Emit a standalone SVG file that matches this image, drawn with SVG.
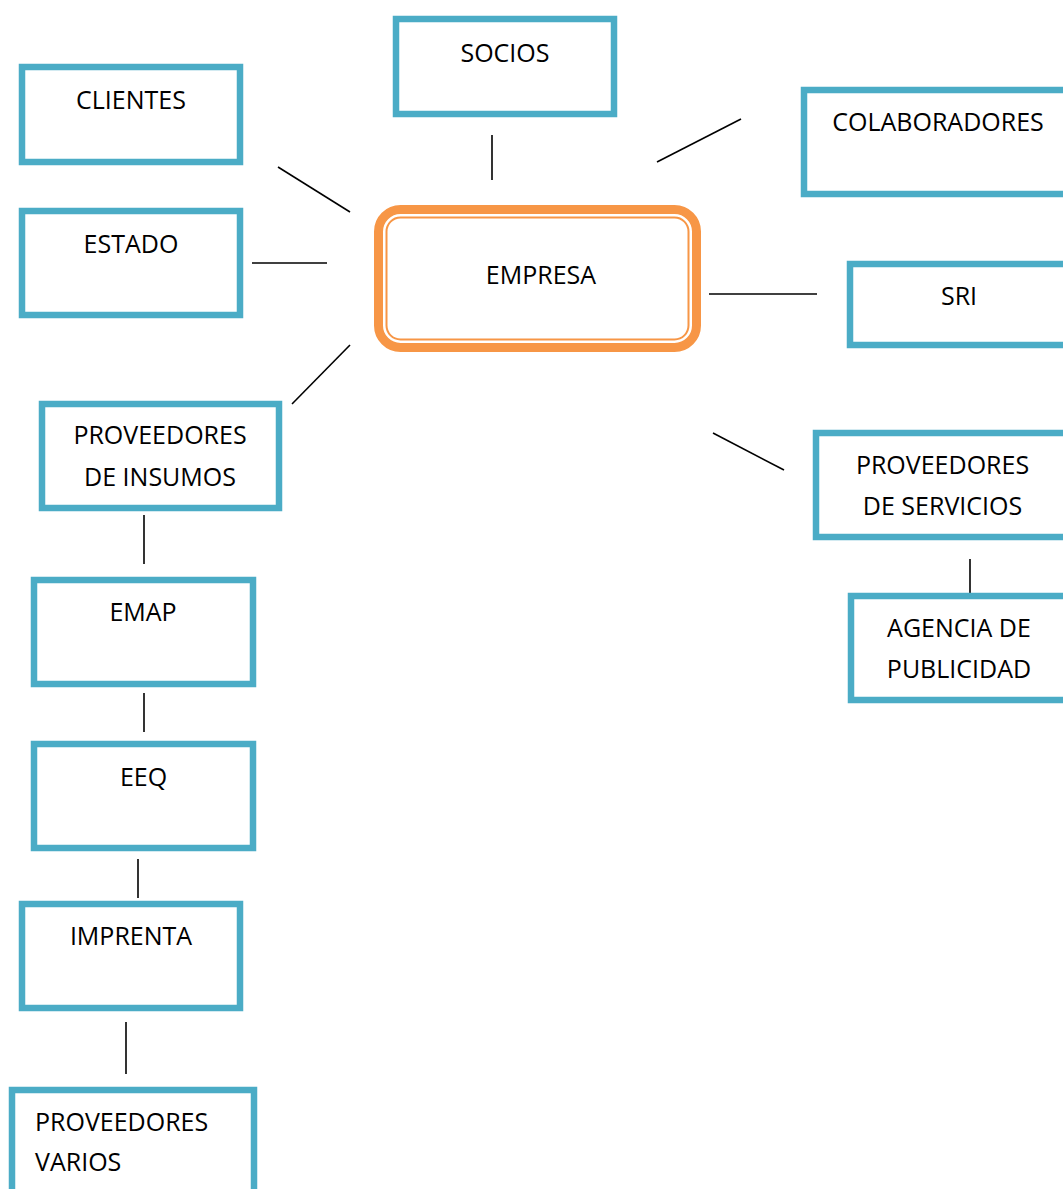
<svg xmlns="http://www.w3.org/2000/svg" width="1063" height="1189" viewBox="0 0 1063 1189">
<style>
.b{fill:#fff;stroke:#4BACC6;stroke-width:6.5}
.t{font-family:"Open Sans","Liberation Sans",sans-serif;font-size:25px;fill:#000;text-anchor:middle}
.l{font-family:"Open Sans","Liberation Sans",sans-serif;font-size:25px;fill:#000}
.c line{stroke:#000;stroke-width:1.6}
</style>
<rect width="1063" height="1189" fill="#fff"/>
<g class="c" id="connectors">
<line x1="492" y1="135" x2="492" y2="180"/>
<line x1="278" y1="167" x2="350" y2="212"/>
<line x1="252" y1="263" x2="327" y2="263"/>
<line x1="350" y1="345" x2="292" y2="404"/>
<line x1="657" y1="162" x2="741" y2="119"/>
<line x1="709" y1="294" x2="817" y2="294"/>
<line x1="713" y1="433" x2="784" y2="470"/>
<line x1="970" y1="559" x2="970" y2="596"/>
<line x1="144" y1="515" x2="144" y2="564"/>
<line x1="144" y1="693" x2="144" y2="732"/>
<line x1="138" y1="859" x2="138" y2="898"/>
<line x1="126" y1="1022" x2="126" y2="1074"/>
</g>
<g id="empresa">
<rect x="378.5" y="209.5" width="318" height="138" rx="22" fill="#fff" stroke="#F79646" stroke-width="9"/>
<rect x="386.5" y="217.5" width="302" height="122" rx="14" fill="none" stroke="#F79646" stroke-width="2"/>
<text class="t" x="541" y="284">EMPRESA</text>
</g>
<g id="socios">
<rect class="b" x="396" y="19" width="218" height="95"/>
<text class="t" x="505" y="62">SOCIOS</text>
</g>
<g id="clientes">
<rect class="b" x="22" y="67" width="218" height="95"/>
<text class="t" x="131" y="109">CLIENTES</text>
</g>
<g id="estado">
<rect class="b" x="22" y="211" width="218" height="104"/>
<text class="t" x="131" y="253">ESTADO</text>
</g>
<g id="proveedores-insumos">
<rect class="b" x="42" y="404" width="237" height="104"/>
<text class="t" x="160" y="444">PROVEEDORES</text>
<text class="t" x="160" y="486">DE INSUMOS</text>
</g>
<g id="emap">
<rect class="b" x="34" y="580" width="219" height="104"/>
<text class="t" x="143" y="621">EMAP</text>
</g>
<g id="eeq">
<rect class="b" x="34" y="744" width="219" height="104"/>
<text class="t" x="143.5" y="786">EEQ</text>
</g>
<g id="imprenta">
<rect class="b" x="22" y="904" width="218" height="104"/>
<text class="t" x="131" y="945">IMPRENTA</text>
</g>
<g id="proveedores-varios">
<rect class="b" x="12" y="1090" width="242" height="104"/>
<text class="l" x="35" y="1131">PROVEEDORES</text>
<text class="l" x="35" y="1171">VARIOS</text>
</g>
<g id="colaboradores">
<rect class="b" x="804" y="90" width="300" height="104"/>
<text class="t" x="938" y="131">COLABORADORES</text>
</g>
<g id="sri">
<rect class="b" x="850" y="264" width="300" height="81"/>
<text class="t" x="959" y="305">SRI</text>
</g>
<g id="proveedores-servicios">
<rect class="b" x="816" y="433" width="300" height="104"/>
<text class="t" x="942.5" y="474">PROVEEDORES</text>
<text class="t" x="942.5" y="515">DE SERVICIOS</text>
</g>
<g id="agencia">
<rect class="b" x="851" y="596" width="300" height="104"/>
<text class="t" x="959" y="637">AGENCIA DE</text>
<text class="t" x="959" y="678">PUBLICIDAD</text>
</g>
</svg>
